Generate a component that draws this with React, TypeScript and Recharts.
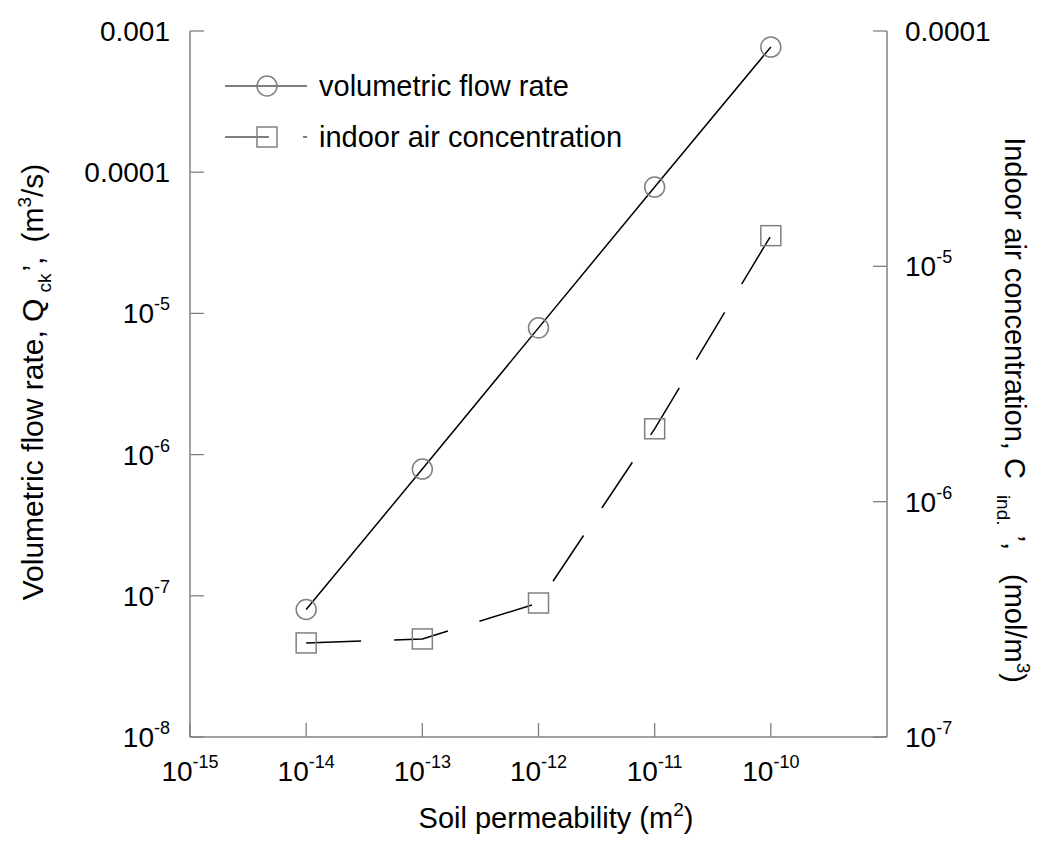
import { ComposedChart, Line, XAxis, YAxis, Legend, Customized } from "recharts"

const permeability = [1e-14, 1e-13, 1e-12, 1e-11, 1e-10]
const flowRate = [8.0e-8, 7.9e-7, 7.9e-6, 7.85e-5, 7.7e-4]
const indoorConc = [2.51e-7, 2.61e-7, 3.71e-7, 2.04e-6, 1.35e-5]

const xTicks = [1e-15, 1e-14, 1e-13, 1e-12, 1e-11, 1e-10]
const leftTicks = [1e-8, 1e-7, 1e-6, 1e-5, 1e-4, 1e-3]
const rightTicks = [1e-7, 1e-6, 1e-5, 1e-4]

const rows = permeability.map((k, i) => ({ k, q: flowRate[i], c: indoorConc[i] }))

const FONT = "'Liberation Sans', Arial, sans-serif"
const FRAME = "#808080"
const TICK_LEN = 14

const exp = (v: number) => Math.round(Math.log10(v))

// 0.001 / 0.0001 as decimals, the rest as powers of ten
function TickText({ x, y, value, anchor }: any) {
  const e = exp(value)
  if (e >= -4) {
    return (
      <text x={x} y={y} textAnchor={anchor} fontSize={28} fontFamily={FONT} fill="#000">
        {value.toFixed(-e)}
      </text>
    )
  }
  return (
    <text x={x} y={y} textAnchor={anchor} fontSize={28} fontFamily={FONT} fill="#000">
      10
      <tspan dy={-13} fontSize={18}>{`-${-e}`}</tspan>
    </text>
  )
}

const BottomTick = ({ x, y, payload }: any) => (
  <g>
    <line x1={x} x2={x} y1={y} y2={y - TICK_LEN} stroke={FRAME} strokeWidth={1.3} />
    <TickText x={x} y={y + 44} value={payload.value} anchor="middle" />
  </g>
)

const TopTick = ({ x, y }: any) => (
  <line x1={x} x2={x} y1={y} y2={y + TICK_LEN} stroke={FRAME} strokeWidth={1.3} />
)

const LeftTick = ({ x, y, payload }: any) => (
  <g>
    <line x1={x} x2={x + TICK_LEN} y1={y} y2={y} stroke={FRAME} strokeWidth={1.3} />
    <TickText x={x - 20} y={y + 10} value={payload.value} anchor="end" />
  </g>
)

const RightTick = ({ x, y, payload }: any) => (
  <g>
    <line x1={x} x2={x - TICK_LEN} y1={y} y2={y} stroke={FRAME} strokeWidth={1.3} />
    <TickText x={x + 18} y={y + 10} value={payload.value} anchor="start" />
  </g>
)

const CircleDot = ({ cx, cy, index }: any) => (
  <circle key={`c${index}`} cx={cx} cy={cy} r={10} fill="none" stroke={FRAME} strokeWidth={1.5} />
)

const SquareDot = ({ cx, cy, index }: any) => (
  <rect key={`s${index}`} x={cx - 10} y={cy - 10} width={20} height={20} fill="none" stroke={FRAME} strokeWidth={1.5} />
)

function renderLegend(props: any) {
  const items = props.payload || []
  return (
    <svg width={450} height={110}>
      {items.map((item: any) => {
        const isFlow = item.dataKey === "q"
        const cy = isFlow ? 28 : 79
        return (
          <g key={item.dataKey}>
            <line
              x1={15}
              x2={97}
              y1={cy}
              y2={cy}
              stroke="#000"
              strokeWidth={1}
              strokeDasharray={isFlow ? undefined : "44 34 4 100"}
            />
            {isFlow ? (
              <circle cx={57} cy={cy} r={10} fill="none" stroke={FRAME} strokeWidth={1.5} />
            ) : (
              <rect x={47} y={cy - 10} width={20} height={20} fill="none" stroke={FRAME} strokeWidth={1.5} />
            )}
            <text x={109} y={cy + 10} fontSize={29} fontFamily={FONT} fill="#000">
              {item.value}
            </text>
          </g>
        )
      })}
    </svg>
  )
}

const Titles = () => (
  <g fontFamily={FONT} fill="#000">
    <text x={35} y={374} fontSize={30} textAnchor="middle" transform="rotate(-90 35 374)">
      Volumetric flow rate, Q
      <tspan dx={6} dy={8} fontSize={19}>ck</tspan>
      <tspan dx={2} dy={-8}>’,</tspan>
      <tspan dx={14}>(m</tspan>
      <tspan dy={-12} fontSize={19}>3</tspan>
      <tspan dy={12}>/s)</tspan>
    </text>
    <text x={997} y={402} fontSize={29} textAnchor="middle" transform="rotate(90 997 402)">
      Indoor air concentration, C
      <tspan dx={16} dy={8} fontSize={19}>ind.</tspan>
      <tspan dx={10} dy={-8}>’,</tspan>
      <tspan dx={24}>(mol/m</tspan>
      <tspan dy={-12} fontSize={19}>3</tspan>
      <tspan dy={12}>)</tspan>
    </text>
    <text x={548} y={820} fontSize={29} textAnchor="middle">
      Soil permeability (m
      <tspan dy={-12} fontSize={19}>2</tspan>
      <tspan dy={12}>)</tspan>
    </text>
  </g>
)

export default function App() {
  return (
    <ComposedChart width={1034} height={848} data={rows} margin={{ top: 23, right: 0, bottom: 0, left: 0 }}>
      <XAxis
        dataKey="k"
        type="number"
        scale="log"
        domain={[1e-15, 1e-9]}
        ticks={xTicks}
        allowDataOverflow
        height={119}
        tickSize={0}
        tickMargin={0}
        tick={<BottomTick />}
        axisLine={{ stroke: FRAME, strokeWidth: 1.5 }}
        tickLine={false}
        interval={0}
      />
      <XAxis
        xAxisId="top"
        orientation="top"
        dataKey="k"
        type="number"
        scale="log"
        domain={[1e-15, 1e-9]}
        ticks={xTicks}
        allowDataOverflow
        height={0}
        tickSize={0}
        tickMargin={0}
        tick={<TopTick />}
        axisLine={{ stroke: FRAME, strokeWidth: 1.5 }}
        tickLine={false}
        interval={0}
      />
      <YAxis
        yAxisId="left"
        type="number"
        scale="log"
        domain={[1e-8, 1e-3]}
        ticks={leftTicks}
        allowDataOverflow
        width={182}
        tickSize={0}
        tickMargin={0}
        tick={<LeftTick />}
        axisLine={{ stroke: FRAME, strokeWidth: 1.5 }}
        tickLine={false}
        interval={0}
      />
      <YAxis
        yAxisId="right"
        orientation="right"
        type="number"
        scale="log"
        domain={[1e-7, 1e-4]}
        ticks={rightTicks}
        allowDataOverflow
        width={155}
        tickSize={0}
        tickMargin={0}
        tick={<RightTick />}
        axisLine={{ stroke: FRAME, strokeWidth: 1.5 }}
        tickLine={false}
        interval={0}
      />
      <Legend
        layout="vertical"
        align="center"
        verticalAlign="middle"
        wrapperStyle={{ position: "absolute", top: 50, left: 202, width: 450, height: 110 }}
        content={renderLegend}
      />
      <Line
        yAxisId="left"
        dataKey="q"
        name="volumetric flow rate"
        stroke="#000"
        strokeWidth={1.5}
        dot={CircleDot}
        activeDot={false}
        isAnimationActive={false}
      />
      <Line
        yAxisId="right"
        dataKey="c"
        name="indoor air concentration"
        stroke="#000"
        strokeWidth={1.5}
        strokeDasharray="55 33"
        dot={SquareDot}
        activeDot={false}
        isAnimationActive={false}
      />
      <Customized component={Titles} />
    </ComposedChart>
  )
}
